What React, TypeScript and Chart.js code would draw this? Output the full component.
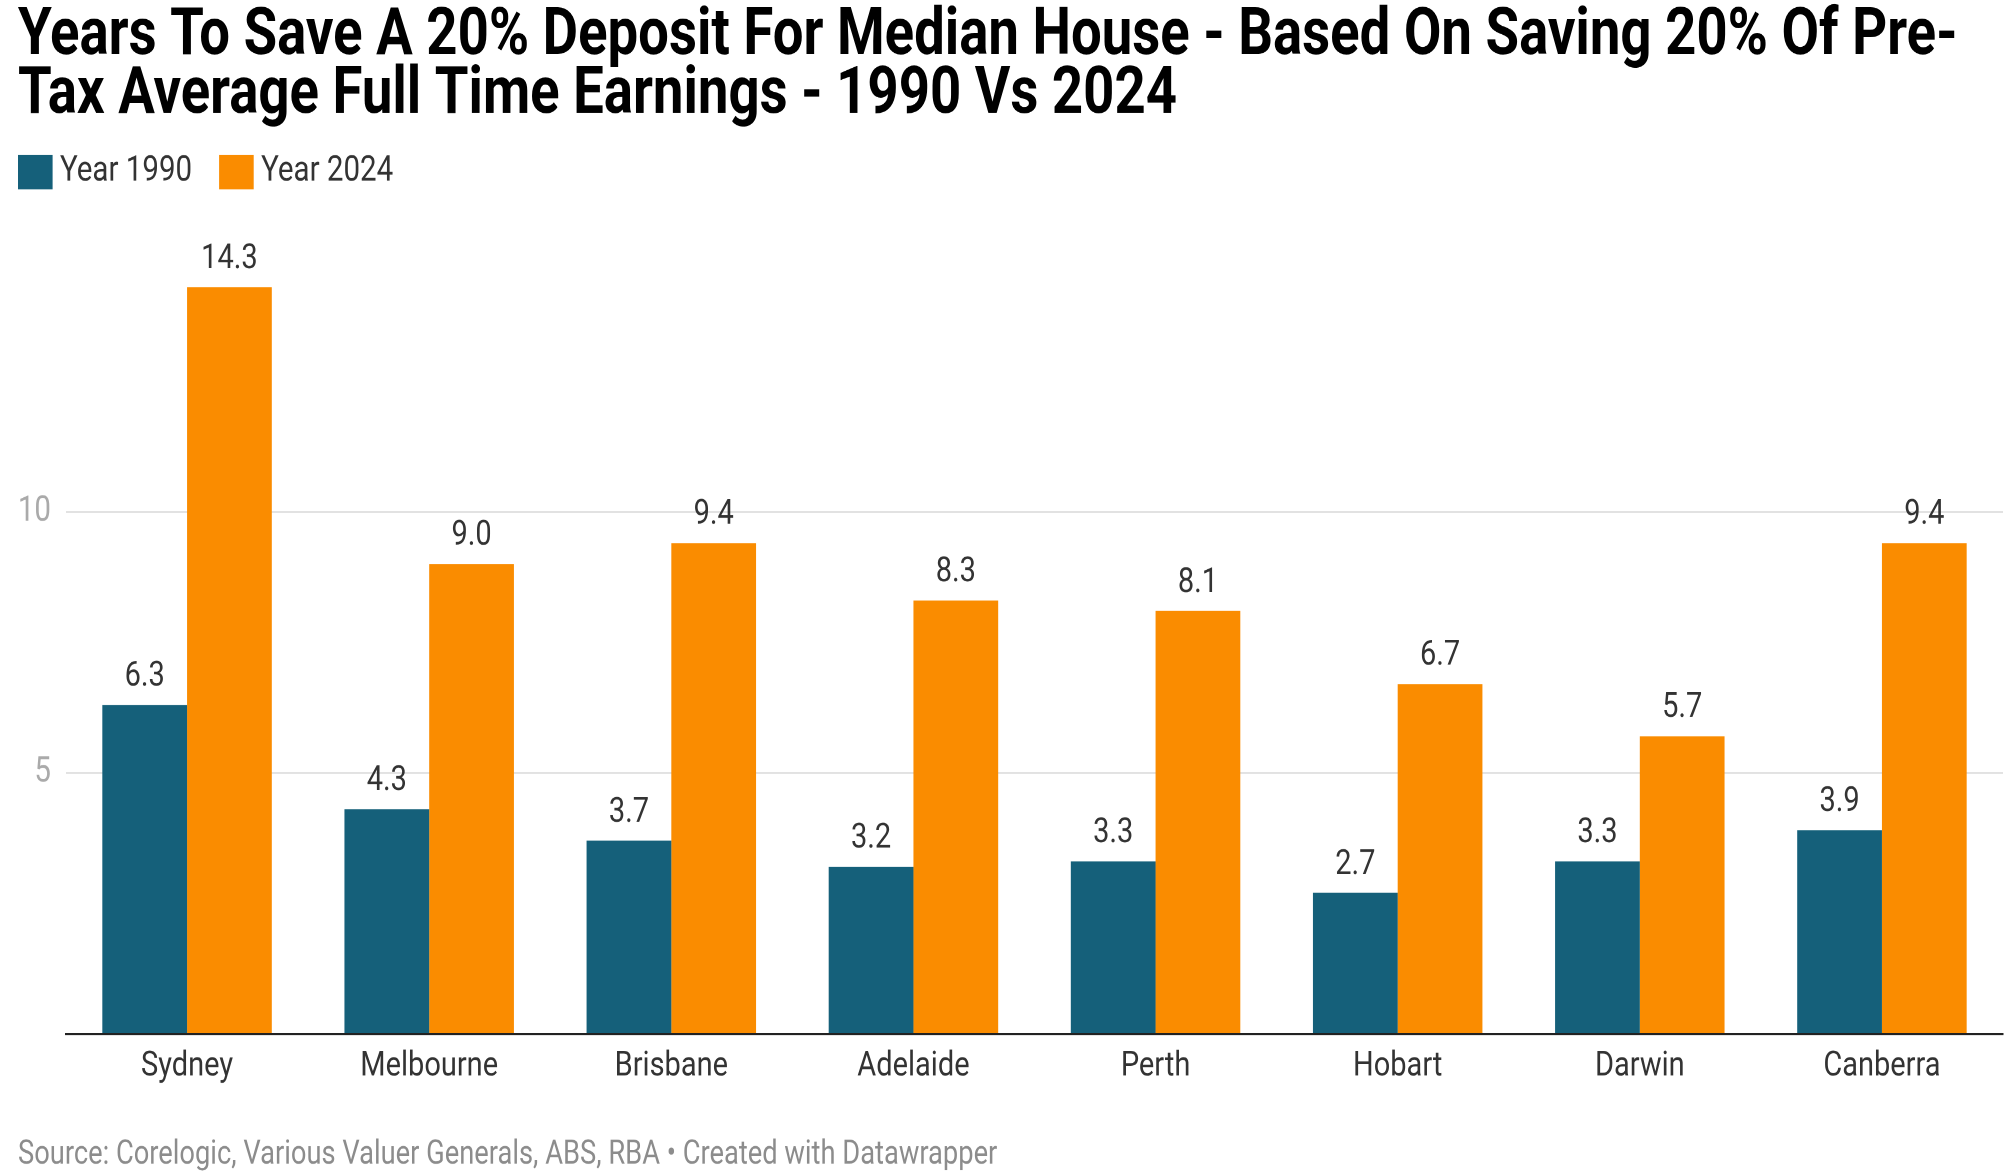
import React, { useEffect, useRef } from "react";
import { Chart, registerables } from "chart.js";

Chart.register(...registerables);

const TITLE_LINES = [
  "Years To Save A 20% Deposit For Median House - Based On Saving 20% Of Pre-",
  "Tax Average Full Time Earnings - 1990 Vs 2024",
];
const SOURCE_TEXT =
  "Source: Corelogic, Various Valuer Generals, ABS, RBA \u2022 Created with Datawrapper";
const CITIES = ["Sydney", "Melbourne", "Brisbane", "Adelaide", "Perth", "Hobart", "Darwin", "Canberra"];
const SERIES_LABELS = ["Year 1990", "Year 2024"];
const YEAR_1990 = [6.3, 4.3, 3.7, 3.2, 3.3, 2.7, 3.3, 3.9];
const YEAR_2024 = [14.3, 9.0, 9.4, 8.3, 8.1, 6.7, 5.7, 9.4];
const Y_TICKS = [0, 5, 10];
const Y_MAX = 15;

const COLORS = ["#15607a", "#fa8c00"];

const W = 2007;
const H_PX = 1172;
const K = 1.2; // vertical stretch of the reference
const H = Math.round(H_PX / K);

const headerPlugin = {
  id: "headerFooter",
  afterDraw(chart: any) {
    const ctx = chart.ctx as CanvasRenderingContext2D;
    ctx.save();
    ctx.textAlign = "left";
    ctx.textBaseline = "alphabetic";
    ctx.fillStyle = "#000";
    ctx.font = "bold 54.5px Roboto";
    ctx.fillText(TITLE_LINES[0], 18, 45);
    ctx.fillText(TITLE_LINES[1], 18, 94);

    ctx.font = "29.5px Roboto";
    let x = 18;
    chart.data.datasets.forEach((ds: any) => {
      ctx.fillStyle = ds.backgroundColor;
      ctx.fillRect(x, 129, 34.6, 28.8);
      ctx.fillStyle = "#333";
      ctx.fillText(ds.label, x + 42, 150.6);
      x += 42 + ctx.measureText(ds.label).width + 27;
    });

    ctx.font = "27.3px Roboto";
    ctx.fillStyle = "#8c8c8c";
    ctx.fillText(SOURCE_TEXT, 18, 969.8);
    ctx.restore();
  },
};

const valueLabelPlugin = {
  id: "valueLabels",
  afterDatasetsDraw(chart: any) {
    const ctx = chart.ctx as CanvasRenderingContext2D;
    ctx.save();
    ctx.font = "29px Roboto";
    ctx.fillStyle = "#333";
    ctx.textAlign = "center";
    ctx.textBaseline = "alphabetic";
    chart.data.datasets.forEach((ds: any, i: number) => {
      const meta = chart.getDatasetMeta(i);
      meta.data.forEach((bar: any, j: number) => {
        ctx.fillText(Number(ds.data[j]).toFixed(1), bar.x, bar.y - 16);
      });
    });
    ctx.restore();
  },
};

export default function App() {
  const ref = useRef<HTMLCanvasElement>(null);

  useEffect(() => {
    document.body.style.margin = "0";
    Chart.defaults.font.family = "Roboto";
    const chart = new Chart(ref.current as HTMLCanvasElement, {
      type: "bar",
      data: {
        labels: CITIES,
        datasets: [
          {
            label: SERIES_LABELS[0],
            data: YEAR_1990,
            backgroundColor: COLORS[0],
            borderWidth: 0,
            categoryPercentage: 0.7,
            barPercentage: 1.0,
          },
          {
            label: SERIES_LABELS[1],
            data: YEAR_2024,
            backgroundColor: COLORS[1],
            borderWidth: 0,
            categoryPercentage: 0.7,
            barPercentage: 1.0,
          },
        ],
      },
      options: {
        responsive: false,
        animation: false,
        devicePixelRatio: 2,
        layout: { padding: { top: 209, left: 18, right: 4, bottom: 0 } },
        plugins: {
          legend: { display: false },
          title: { display: false },
          tooltip: { enabled: false },
        },
        scales: {
          x: {
            grid: { display: false, drawTicks: false },
            border: { display: true, color: "#222", width: 2 },
            ticks: {
              color: "#333",
              font: { family: "Roboto", size: 29 },
              padding: 10,
              maxRotation: 0,
            },
            afterFit(scale: any) {
              scale.height = H - 861.8;
            },
          },
          y: {
            min: 0,
            max: Y_MAX,
            grid: {
              drawTicks: false,
              lineWidth: 1.5,
              color: (c: any) => (c.tick && c.tick.value === 0 ? "rgba(0,0,0,0)" : "#e2e2e2"),
            },
            border: { display: false },
            ticks: {
              color: "#aaaaaa",
              font: { family: "Roboto", size: 29.5 },
              padding: 15,
              callback: (v: any) => (v === 0 ? "" : String(v)),
            },
            afterBuildTicks(scale: any) {
              scale.ticks = Y_TICKS.map((v) => ({ value: v }));
            },
            afterFit(scale: any) {
              scale.width = 48;
            },
          },
        },
      },
      plugins: [headerPlugin, valueLabelPlugin],
    });
    return () => chart.destroy();
  }, []);

  return (
    <canvas
      ref={ref}
      width={W}
      height={H}
      style={{ display: "block", width: W + "px", height: H_PX + "px" }}
    />
  );
}
